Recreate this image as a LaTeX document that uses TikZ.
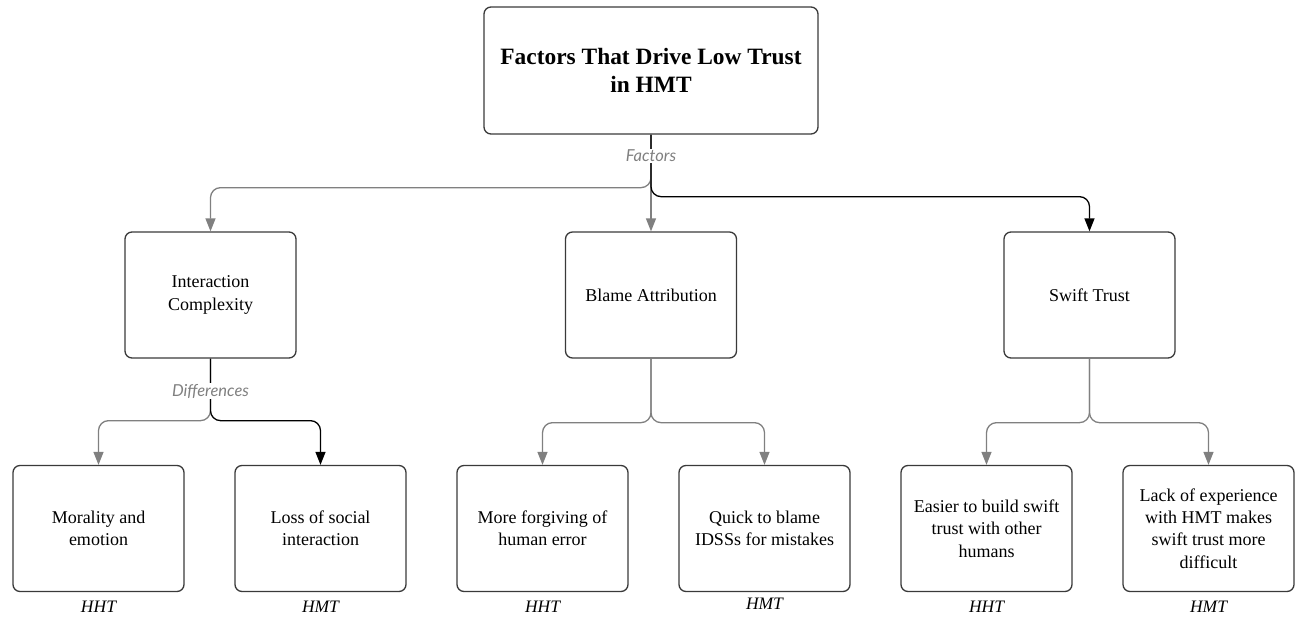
\documentclass[tikz,border=0pt]{standalone}
\usepackage{fontspec}
\setmainfont{Liberation Serif}
\newfontfamily\labelfont{Lato}
\usetikzlibrary{arrows.meta}
\definecolor{edgegray}{HTML}{808080}
\definecolor{boxline}{HTML}{3A3A3A}
\begin{document}
\begin{tikzpicture}[x=1pt,y=-1pt,
    box/.style={draw=boxline, line width=1.3pt, rounded corners=7pt, align=center,
      minimum width=171pt, minimum height=126pt, inner sep=4pt,
      font=\fontsize{18}{22.3}\selectfont},
    tag/.style={font=\fontsize{17.5}{20}\selectfont\itshape},
    edgelabel/.style={fill=white, text=edgegray, inner sep=1pt,
      font=\fontsize{16.5}{19}\selectfont\labelfont\itshape},
    flow/.style={draw=edgegray, line width=1.3pt, rounded corners=10pt,
      -{Triangle[length=13pt,width=10pt]}},
    flowdark/.style={flow, draw=black}]
  \useasboundingbox (0,0) rectangle (1296,618);
  \node[box, minimum width=334pt, minimum height=127pt,
    font=\fontsize{23.4}{28.5}\selectfont\bfseries] (top) at (651,70.5)
    {Factors That Drive Low Trust\\in HMT};
  \node[box] (ic) at (210.5,295) {Interaction\\Complexity};
  \node[box] (ba) at (651,295) {Blame Attribution};
  \node[box] (st) at (1089.5,295) {Swift Trust};
  \node[box] (b1) at (98.5,528.5) {Morality and\\emotion};
  \node[box] (b2) at (320.5,528.5) {Loss of social\\interaction};
  \node[box] (b3) at (542.5,528.5) {More forgiving of\\human error};
  \node[box] (b4) at (764.5,528.5) {Quick to blame\\IDSSs for mistakes};
  \node[box] (b5) at (986.5,528.5) {Easier to build swift\\trust with other\\humans};
  \node[box] (b6) at (1208.5,528.5) {Lack of experience\\with HMT makes\\swift trust more\\difficult};
  \node[tag] (t1) at (98.5,607) {HHT};
  \node[tag] (t2) at (320.5,607) {HMT};
  \node[tag] (t3) at (542.5,607) {HHT};
  \node[tag] (t4) at (764.5,604) {HMT};
  \node[tag] (t5) at (986.5,607) {HHT};
  \node[tag] (t6) at (1208.5,607) {HMT};
  \draw[flow] (top.south) -- ++(0,53) -| (ic.north);
  \draw[flow] (top.south) -- (ba.north);
  \draw[flowdark] (top.south) -- ++(0,62) -| (st.north);
  \node[edgelabel] (f) at (651,156) {Factors};
  \draw[flow] (ic.south) -- ++(0,62) -| (b1.north);
  \draw[flowdark] (ic.south) -- ++(0,62) -| (b2.north);
  \node[edgelabel] (d) at (210.5,391) {Differences};
  \draw[flow] (ba.south) -- ++(0,64) -| (b3.north);
  \draw[flow] (ba.south) -- ++(0,64) -| (b4.north);
  \draw[flow] (st.south) -- ++(0,64) -| (b5.north);
  \draw[flow] (st.south) -- ++(0,64) -| (b6.north);
\end{tikzpicture}
\end{document}
